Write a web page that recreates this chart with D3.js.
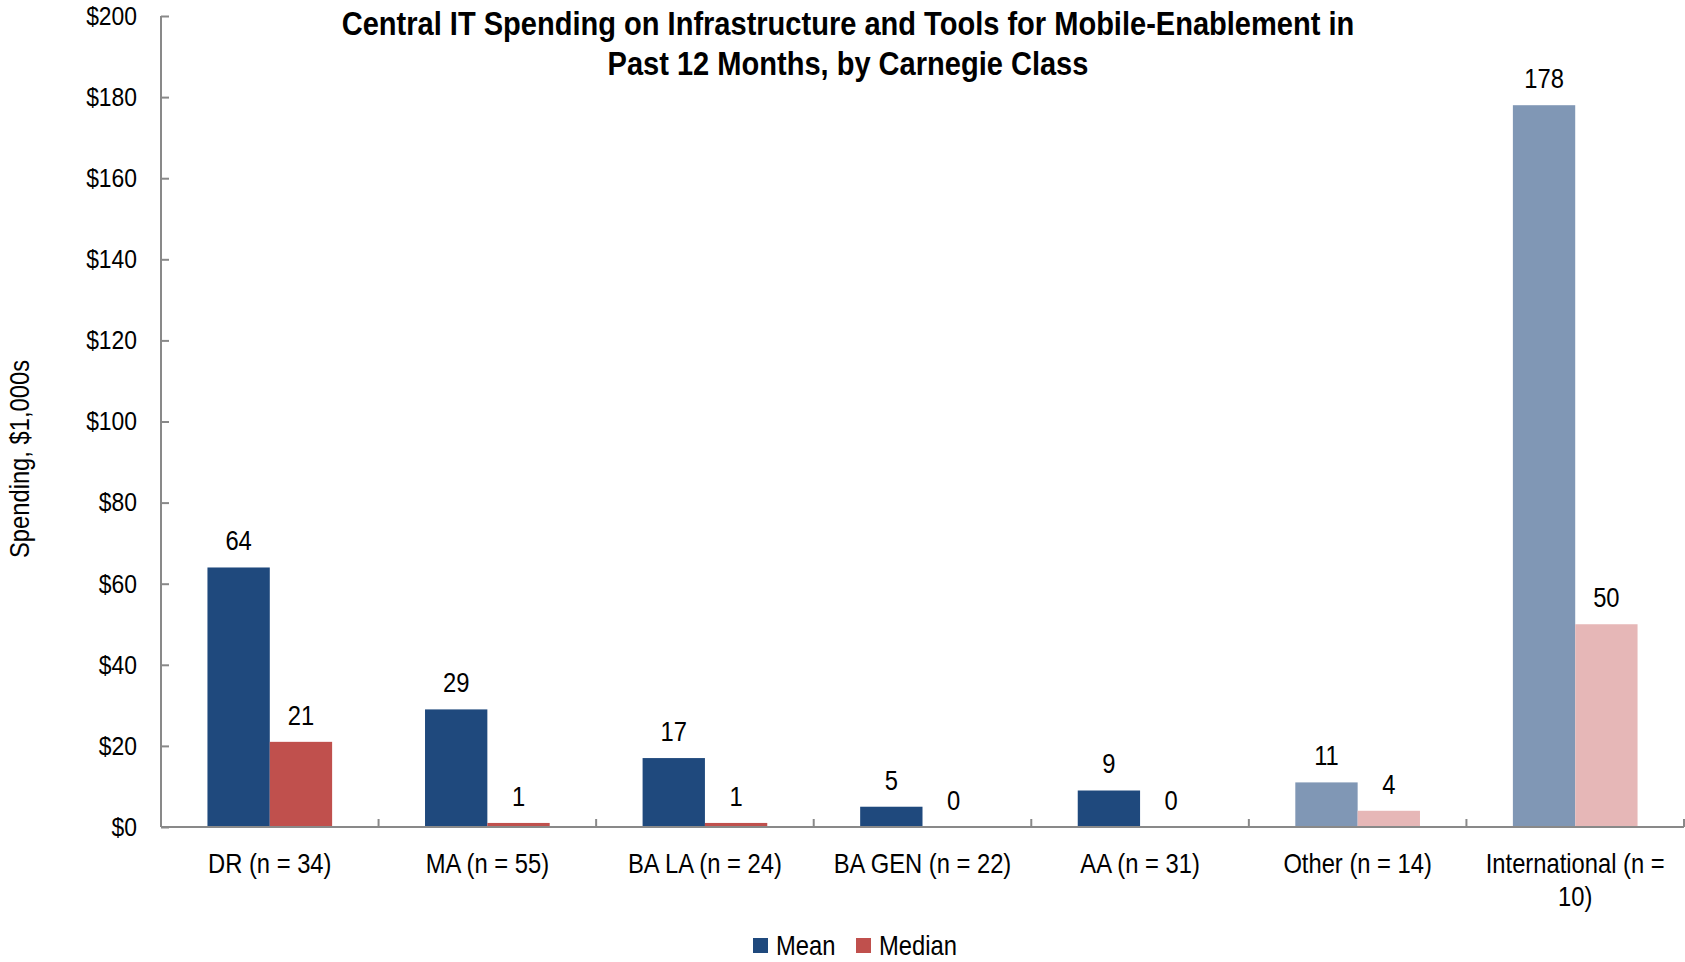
<!DOCTYPE html>
<html>
<head>
<meta charset="utf-8">
<script src="https://cdn.jsdelivr.net/npm/d3@7"></script>
<style>
    body { margin: 0; background: #fff; }
    svg text { font-family: "Liberation Sans", Arial, sans-serif; fill: #000; }
    /* the original uses a condensed face, squeeze the glyphs a little */
    svg text.narrow { transform-box: fill-box; transform: scaleX(0.88); transform-origin: center; }
    svg text.narrow.left { transform-origin: left; }
    svg text.narrow.right { transform-origin: right; }
</style>
</head>
<body>
<div id="chart"></div>
<script>
// chart data
var categories = ["DR (n = 34)", "MA (n = 55)", "BA LA (n = 24)", "BA GEN (n = 22)", "AA (n = 31)", "Other (n = 14)", "International (n = 10)"];
var seriesNames = ["Mean", "Median"];
var meanValues = [64, 29, 17, 5, 9, 11, 178];
var medianValues = [21, 1, 1, 0, 0, 4, 50];
var yTicks = [0, 20, 40, 60, 80, 100, 120, 140, 160, 180, 200];
// the last two groups are drawn in lighter shades
var lightGroups = ["Other (n = 14)", "International (n = 10)"];

var width = 1685,
    height = 962;
var margin = { left: 161, right: 1, top: 16, bottom: 135 };
var squeeze = 0.88;

var svg = d3
    .select("#chart")
    .append("svg")
    .attr("width", width)
    .attr("height", height);

var x0 = d3
    .scaleBand()
    .domain(categories)
    .range([margin.left, width - margin.right])
    .paddingInner(0.427)
    .paddingOuter(0.2135);

var x1 = d3
    .scaleBand()
    .domain(seriesNames)
    .range([0, x0.bandwidth()]);

var y = d3
    .scaleLinear()
    .domain([0, 200])
    .range([height - margin.bottom, margin.top]);

var colors = {
    Mean: { dark: "#1f497d", light: "#8097b5" },
    Median: { dark: "#c0504d", light: "#e6b7b7" }
};

function colorFor(cat, s) {
    return lightGroups.indexOf(cat) >= 0 ? colors[s].light : colors[s].dark;
}

var rows = categories.map(function (c, i) {
    return { cat: c, values: [
        { s: "Mean", v: meanValues[i] },
        { s: "Median", v: medianValues[i] }
    ] };
});

// y axis
var yAxis = svg
    .append("g")
    .attr("transform", "translate(" + margin.left + ",0)")
    .call(d3.axisLeft(y).tickValues(yTicks).tickSize(-8).tickPadding(24)
        .tickFormat(function (d) { return "$" + d; }));
yAxis.selectAll("path, line").attr("stroke", "#898989").attr("stroke-width", 2);
yAxis.select(".domain").attr("d", "M0," + y(200) + "V" + y(0));
yAxis.selectAll("text").attr("class", "narrow right").style("font-size", "26px");

// bars
var groups = svg
    .selectAll(".grp")
    .data(rows)
    .enter()
    .append("g")
    .attr("class", "grp")
    .attr("transform", function (d) { return "translate(" + x0(d.cat) + ",0)"; });

groups
    .selectAll("rect")
    .data(function (d) { return d.values.map(function (e) { return { cat: d.cat, s: e.s, v: e.v }; }); })
    .enter()
    .append("rect")
    .attr("x", function (d) { return x1(d.s); })
    .attr("y", function (d) { return y(d.v); })
    .attr("width", x1.bandwidth())
    .attr("height", function (d) { return y(0) - y(d.v); })
    .style("fill", function (d) { return colorFor(d.cat, d.s); });

// value labels
groups
    .selectAll("text")
    .data(function (d) { return d.values; })
    .enter()
    .append("text")
    .attr("class", "narrow")
    .attr("x", function (d) { return x1(d.s) + x1.bandwidth() / 2; })
    .attr("y", function (d) { return y(d.v) - 17; })
    .attr("text-anchor", "middle")
    .style("font-size", "27px")
    .text(function (d) { return d.v; });

// x axis line and category boundary ticks
var step = x0.step();
var xAxis = svg.append("g");
xAxis
    .append("line")
    .attr("x1", margin.left)
    .attr("x2", width - margin.right)
    .attr("y1", y(0))
    .attr("y2", y(0))
    .attr("stroke", "#898989")
    .attr("stroke-width", 2);
xAxis
    .selectAll(".tick")
    .data(d3.range(categories.length + 1))
    .enter()
    .append("line")
    .attr("x1", function (i) { return margin.left + i * step; })
    .attr("x2", function (i) { return margin.left + i * step; })
    .attr("y1", y(0))
    .attr("y2", y(0) - 8)
    .attr("stroke", "#898989")
    .attr("stroke-width", 2);

// category labels, wrapped to the band width
var catLabels = xAxis
    .selectAll(".cat")
    .data(categories)
    .enter()
    .append("text")
    .attr("class", "cat narrow")
    .attr("x", function (d) { return x0(d) + x0.bandwidth() / 2; })
    .attr("y", y(0) + 46)
    .attr("text-anchor", "middle")
    .style("font-size", "27px")
    .text(function (d) { return d; });

catLabels.each(function () {
    var text = d3.select(this),
        words = text.text().split(/\s+/),
        xPos = text.attr("x"),
        line = [],
        tspan = text.text(null).append("tspan").attr("x", xPos);
    words.forEach(function (w) {
        line.push(w);
        tspan.text(line.join(" "));
        if (tspan.node().getComputedTextLength() * squeeze > step - 20 && line.length > 1) {
            line.pop();
            tspan.text(line.join(" "));
            line = [w];
            tspan = text.append("tspan").attr("x", xPos).attr("dy", 33).text(w);
        }
    });
});

// title
var title = svg
    .append("text")
    .attr("class", "narrow")
    .attr("text-anchor", "middle")
    .style("font-size", "33px")
    .style("font-weight", "bold");
title.append("tspan").attr("x", 848).attr("y", 35).text("Central IT Spending on Infrastructure and Tools for Mobile-Enablement in");
title.append("tspan").attr("x", 848).attr("y", 75).text("Past 12 Months, by Carnegie Class");

// y axis title
svg
    .append("g")
    .attr("transform", "translate(29,459) rotate(-90)")
    .append("text")
    .attr("class", "narrow")
    .attr("text-anchor", "middle")
    .style("font-size", "27px")
    .text("Spending, $1,000s");

// legend
var legend = svg
    .append("g")
    .attr("class", "legend")
    .attr("transform", "translate(753, 938)");

var legendX = [0, 103];
legend
    .selectAll("rect")
    .data(seriesNames)
    .enter()
    .append("rect")
    .attr("x", function (d, i) { return legendX[i]; })
    .attr("y", 0)
    .attr("width", 15)
    .attr("height", 15)
    .style("fill", function (d) { return colors[d].dark; });

legend
    .selectAll("text")
    .data(seriesNames)
    .enter()
    .append("text")
    .attr("class", "narrow left")
    .attr("x", function (d, i) { return legendX[i] + 23; })
    .attr("y", 17)
    .style("font-size", "27px")
    .text(function (d) { return d; });
</script>
</body>
</html>
